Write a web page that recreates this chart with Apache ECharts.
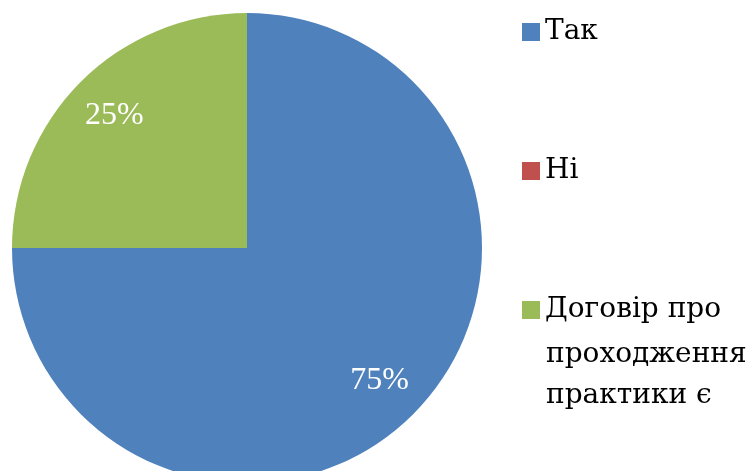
<!DOCTYPE html>
<html>
<head>
<meta charset="utf-8">
<script src="https://cdn.jsdelivr.net/npm/echarts@6/dist/echarts.min.js"></script>
<style>
  html, body { margin: 0; padding: 0; background: #fff; }
  #main { width: 753px; height: 471px; }
</style>
</head>
<body>
<div id="main"></div>
<script>
// data
const categories = ['Так', 'Ні', 'Договір про проходження практики є'];
const values = [75, 0, 25];
const colors = ['#4F81BD', '#C0504D', '#9BBB59'];

const font = 'Liberation Serif';
const cyrFont = 'DejaVu Serif';
const longName = categories[2];

let myChart = echarts.init(document.getElementById('main'));

const pieData = categories.map((c, i) => ({
    name: c,
    value: values[i],
    itemStyle: { color: colors[i] }
}));

let option = {
    animation: false,
    legend: {
        orient: 'vertical',
        left: 517,
        top: 11,
        itemWidth: 18,
        itemHeight: 18,
        itemGap: 107,
        icon: 'rect',
        selectedMode: false,
        data: categories,
        formatter: function (name) {
            return name === longName ? 'Договір про' : name;
        },
        textStyle: {
            fontFamily: cyrFont,
            fontSize: 28,
            lineHeight: 32,
            color: '#000'
        }
    },
    graphic: [
        {
            type: 'text', left: 546, top: 341,
            style: { text: 'проходження', fontFamily: cyrFont, fontSize: 28, fill: '#000' }
        },
        {
            type: 'text', left: 546, top: 382,
            style: { text: 'практики є', fontFamily: cyrFont, fontSize: 28, fill: '#000' }
        }
    ],
    series: [
        {
            name: 'pie',
            type: 'pie',
            center: [247, 248],
            radius: 235,
            startAngle: 90,
            clockwise: true,
            silent: true,
            label: { show: false },
            labelLine: { show: false },
            data: pieData
        },
        {
            // label layer only
            name: 'labels',
            type: 'pie',
            center: [247, 248],
            radius: [134, 235],
            startAngle: 90,
            clockwise: true,
            silent: true,
            itemStyle: { color: 'rgba(0,0,0,0)' },
            label: {
                show: true,
                position: 'inside',
                fontFamily: font,
                fontSize: 32,
                color: '#fff',
                formatter: function (p) {
                    return p.value > 0 ? p.percent.toFixed(0) + '%' : '';
                }
            },
            labelLine: { show: false },
            data: categories.map((c, i) => ({ name: c, value: values[i] }))
        }
    ]
};
myChart.setOption(option);
</script>
</body>
</html>
